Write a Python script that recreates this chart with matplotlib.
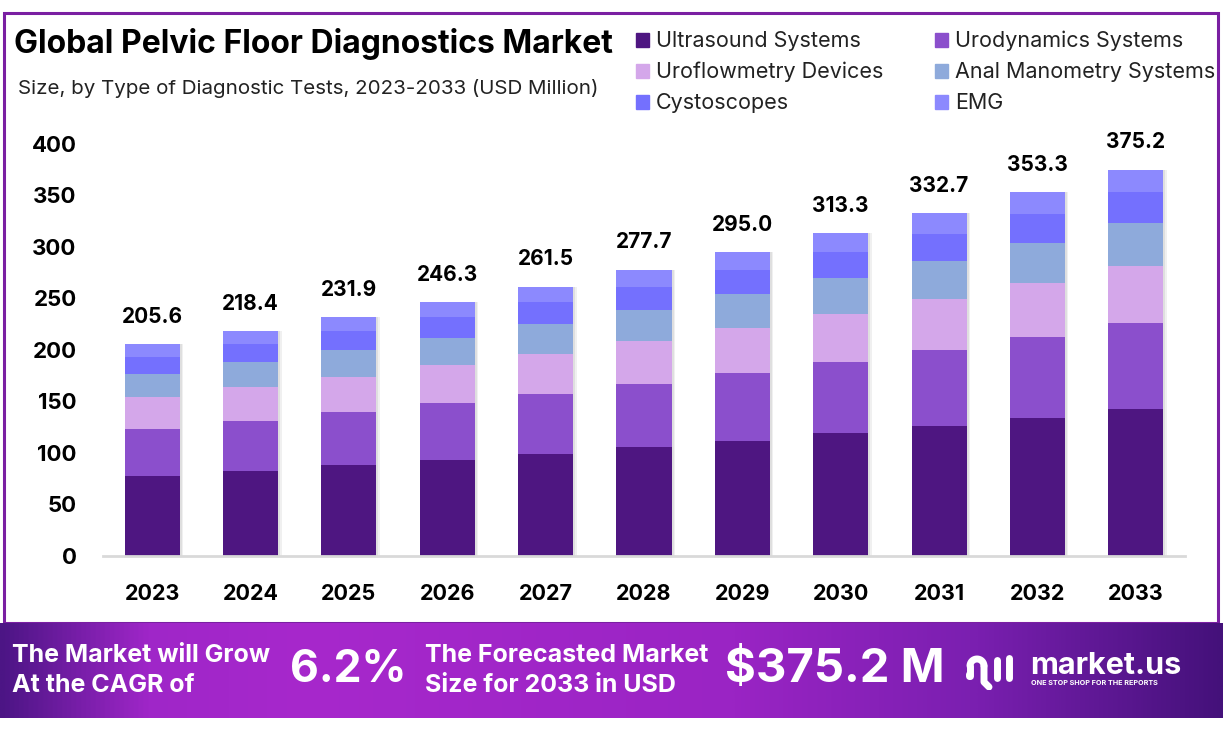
import matplotlib
matplotlib.use("Agg")
import matplotlib.pyplot as plt
import numpy as np
from matplotlib.patches import Rectangle
from matplotlib.colors import LinearSegmentedColormap

plt.rcParams['font.family'] = ['Inter', 'DejaVu Sans']

years = ['2023', '2024', '2025', '2026', '2027', '2028', '2029', '2030', '2031', '2032', '2033']
totals = [205.6, 218.4, 231.9, 246.3, 261.5, 277.7, 295.0, 313.3, 332.7, 353.3, 375.2]
ultrasound = [78.1, 83.0, 88.1, 93.6, 99.4, 105.5, 112.1, 119.1, 126.4, 134.3, 142.6]
urodynamics = [45.6, 48.5, 51.5, 54.7, 58.1, 61.6, 65.5, 69.6, 73.9, 78.4, 83.3]
uroflowmetry = [30.6, 32.5, 34.6, 36.7, 39.0, 41.4, 44.0, 46.7, 49.6, 52.6, 55.9]
anal_manometry = [22.6, 24.0, 25.5, 27.1, 28.8, 30.5, 32.5, 34.5, 36.6, 38.9, 41.3]
cystoscopes = [16.4, 17.5, 18.6, 19.7, 20.9, 22.2, 23.6, 25.1, 26.6, 28.3, 30.0]
emg = [12.3, 12.9, 13.6, 14.5, 15.3, 16.5, 17.3, 18.3, 19.6, 20.8, 22.1]

series = [
    ('Ultrasound Systems', ultrasound, '#4e1681'),
    ('Urodynamics Systems', urodynamics, '#8b4fcc'),
    ('Uroflowmetry Devices', uroflowmetry, '#d4a7ea'),
    ('Anal Manometry Systems', anal_manometry, '#8eaadb'),
    ('Cystoscopes', cystoscopes, '#7470fe'),
    ('EMG', emg, '#8c89fe'),
]

W, H = 1223, 732
fig = plt.figure(figsize=(W / 100, H / 100), dpi=100)
fig.patch.set_facecolor('white')

# outer border
fig.add_artist(Rectangle((4 / W, 1 - 623 / H), (1218 - 4) / W, (623 - 13) / H,
                         transform=fig.transFigure, fill=False,
                         edgecolor='#7a1fa2', linewidth=2.2, zorder=0))

# main axes
ax_left, ax_right = 103, 1185
y0_px, scale = 556, 1.03
ylim_top = 420
ax = fig.add_axes([ax_left / W, 1 - y0_px / H, (ax_right - ax_left) / W, ylim_top * scale / H])
x = np.arange(len(years))
bw = 0.56

# soft shadow
for off, a in [(0.035, 0.18), (0.02, 0.25)]:
    ax.bar(x + off, totals, width=bw, color='#b0b0b0', alpha=a, zorder=1, linewidth=0)
bottom = np.zeros(len(years))
for name, vals, col in series:
    ax.bar(x, vals, width=bw, bottom=bottom, color=col, label=name, zorder=2, linewidth=0)
    bottom += np.array(vals)

for xi, t in zip(x, totals):
    ax.text(xi, t + 17, f'{t:.1f}', ha='center', va='bottom', fontsize=15,
            fontweight='bold', color='black')

ax.set_xlim(-0.5, len(years) - 0.5)
ax.set_ylim(0, ylim_top)
ax.set_yticks([0, 50, 100, 150, 200, 250, 300, 350, 400])
ax.set_xticks(x)
ax.set_xticklabels(years)
for lab in ax.get_xticklabels():
    lab.set_fontweight('bold')
    lab.set_fontsize(15.5)
for lab in ax.get_yticklabels():
    lab.set_fontweight('bold')
    lab.set_fontsize(16)
ax.tick_params(axis='both', length=0)
ax.tick_params(axis='y', pad=19)
ax.tick_params(axis='x', pad=20)
for s in ['top', 'right', 'left']:
    ax.spines[s].set_visible(False)
ax.spines['bottom'].set_color('#d9d9d9')
ax.spines['bottom'].set_linewidth(2)

# title
fig.text(14 / W, 1 - 44 / H, 'Global Pelvic Floor Diagnostics Market', fontsize=23,
         fontweight='bold', ha='left', va='center', color='black')
fig.text(18 / W, 1 - 89 / H, 'Size, by Type of Diagnostic Tests, 2023-2033 (USD Million)',
         fontsize=14.8, ha='left', va='center', color='#222222')

# legend
leg_pos = [(636, 40), (935, 40), (636, 71), (935, 71), (636, 102), (935, 102)]
for (name, vals, col), (lx, ly) in zip(series, leg_pos):
    fig.add_artist(Rectangle((lx / W, 1 - (ly + 7) / H), 13 / W, 14 / H,
                             transform=fig.transFigure, color=col))
    fig.text((lx + 20) / W, 1 - (ly + 1) / H, name, fontsize=15.5, ha='left', va='center',
             color='#222222')

# banner
bax = fig.add_axes([0, 1 - 718 / H, 1, (718 - 623) / H])
cmap = LinearSegmentedColormap.from_list('ban', [(0.0, '#4c1585'), (0.12, '#9f26c8'),
                                                  (0.25, '#a728cc'), (0.6, '#9a24c4'),
                                                  (0.8, '#7a1fb0'), (1.0, '#44117a')])
grad = np.linspace(0, 1, 512).reshape(1, -1)
bax.imshow(grad, aspect='auto', cmap=cmap, extent=[0, 1, 0, 1])
bax.set_xlim(0, 1)
bax.set_ylim(0, 1)
bax.axis('off')

def bt(px, py, s, **kw):
    fig.text(px / W, 1 - py / H, s, color='white', **kw)

bt(12, 656, 'The Market will Grow', fontsize=18, fontweight='bold', ha='left', va='center')
bt(12, 686, 'At the CAGR of', fontsize=18, fontweight='bold', ha='left', va='center')
bt(290, 670, '6.2%', fontsize=32, fontweight='bold', ha='left', va='center')
bt(425, 656, 'The Forecasted Market', fontsize=18, fontweight='bold', ha='left', va='center')
bt(425, 686, 'Size for 2033 in USD', fontsize=18, fontweight='bold', ha='left', va='center')
bt(725, 670, '$375.2 M', fontsize=34, fontweight='bold', ha='left', va='center')
bt(1030, 666, 'market.us', fontsize=22, fontweight='bold', ha='left', va='center')
bt(1031, 683, 'ONE STOP SHOP FOR THE REPORTS', fontsize=5.2, fontweight='bold',
   ha='left', va='center')

# simple logo marks
lax = fig.add_axes([965 / W, 1 - 690 / H, 58 / W, 42 / H])
lax.set_xlim(0, 58)
lax.set_ylim(0, 42)
lax.axis('off')
lax.plot([4, 4], [14, 16], color='white', lw=5, solid_capstyle='round')
t = np.linspace(np.pi, 0, 30)
lax.plot(12 + 7 * np.cos(t), 24 + 7 * np.sin(t), color='white', lw=5, solid_capstyle='round')
lax.plot([5, 5], [24, 14], color='white', lw=5, solid_capstyle='round')
lax.plot([19, 19, 24], [24, 8, 3], color='white', lw=5, solid_capstyle='round')
lax.plot([32, 32], [30, 12], color='white', lw=5, solid_capstyle='round')
lax.plot([44, 44], [32, 12], color='white', lw=5, solid_capstyle='round')

fig.savefig('out.png', dpi=100)
